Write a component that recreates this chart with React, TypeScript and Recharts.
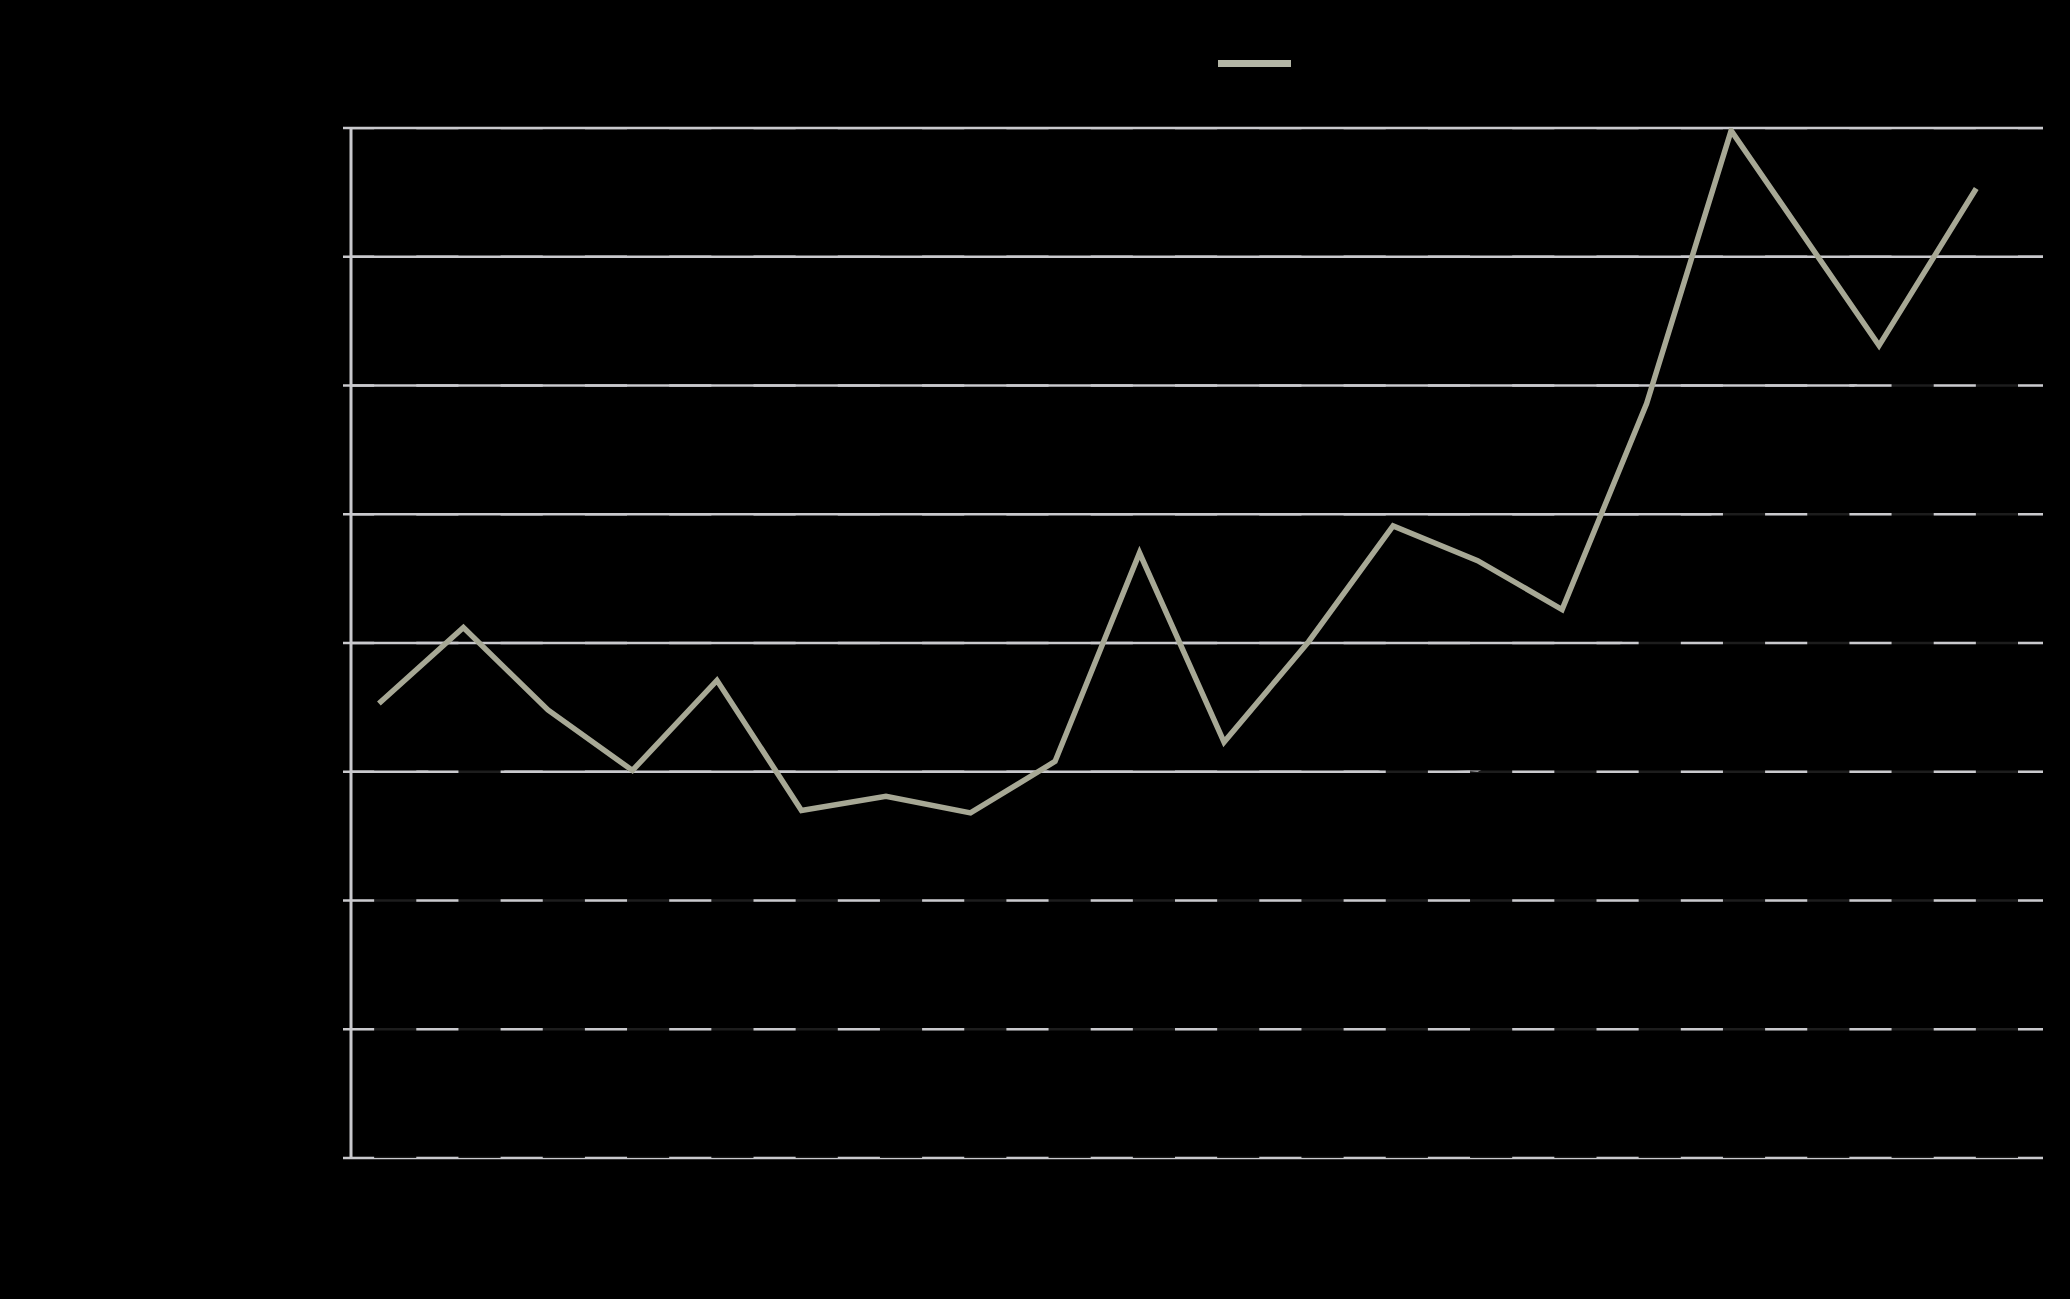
import React from 'react';
import {
  ComposedChart,
  Line,
  Area,
  XAxis,
  YAxis,
  CartesianGrid,
  Legend,
} from 'recharts';

// x positions of the points (period index, last two are irregular)
const periods = [0, 1, 2, 3, 4, 5, 6, 7, 8, 9, 10, 11, 12, 13, 14, 15, 16, 17.75, 18.9];
const values = [
  3.53, 4.12, 3.48, 3.01, 3.71, 2.7, 2.81, 2.68, 3.08, 4.7,
  3.23, 4.01, 4.91, 4.64, 4.26, 5.86, 7.98, 6.31, 7.53,
];

// second series, drawn in black so only its effect on the gridlines shows
const hiddenPeriods = [-0.33, 0, 1, 2, 3, 4, 5, 6, 7, 8, 9, 10, 11, 12, 13, 14, 15, 16, 17.75, 18.9, 19.69];
const hiddenValues = [
  2.6, 2.6, 3.3, 2.7, 2.4, 2.6, 2.3, 2.4, 2.3, 2.5, 2.8,
  2.6, 2.8, 3.05, 3.0, 3.3, 4.3, 5.2, 6.15, 6.5, 6.5,
];

const yTicks = [0, 1, 2, 3, 4, 5, 6, 7, 8];
const xDomain: [number, number] = [-0.33, 19.69];

const lineColor = '#a7a895';
const gridColor = '#c9c9cd';

const lineData = periods.map((x, i) => ({ x, v: values[i] }));
const hiddenData = hiddenPeriods.map((x, i) => ({ x, h: hiddenValues[i] }));
// dashed overlays on each gridline
const dashRows = yTicks.map((t) => [
  { x: xDomain[0], g: t },
  { x: xDomain[1], g: t },
]);

const NoLabel = () => <g />;

const LegendIcon = () => (
  <svg width={73} height={7} style={{ display: 'block' }}>
    <line x1={0} y1={3.5} x2={73} y2={3.5} stroke="#b4b6a6" strokeWidth={7} />
  </svg>
);

const App: React.FC = () => {
  return (
    <div
      style={{
        position: 'absolute',
        left: 0,
        top: 0,
        width: 2070,
        height: 1299,
        background: '#000',
      }}
    >
      <ComposedChart
        width={2070}
        height={1299}
        margin={{ top: 128, right: 27, left: 291, bottom: 141 }}
      >
        <CartesianGrid horizontal vertical={false} stroke={gridColor} strokeWidth={2.5} />
        <XAxis
          type="number"
          dataKey="x"
          domain={xDomain}
          allowDataOverflow
          hide
        />
        <YAxis
          type="number"
          domain={[0, 8]}
          ticks={yTicks}
          allowDataOverflow
          width={60}
          axisLine={{ stroke: gridColor, strokeWidth: 3 }}
          tickLine={{ stroke: gridColor, strokeWidth: 2.5 }}
          tickSize={8}
          tick={NoLabel}
        />
        <Legend
          layout="horizontal"
          verticalAlign="middle"
          align="center"
          wrapperStyle={{ position: 'absolute', left: 1218, top: 60, width: 73, height: 7 }}
          content={LegendIcon}
        />
        <Area
          data={hiddenData}
          dataKey="h"
          type="linear"
          stroke="none"
          fill="#000"
          fillOpacity={0.86}
          isAnimationActive={false}
          legendType="none"
        />
        {dashRows.map((row, i) => (
          <Line
            key={'dash' + i}
            data={row}
            dataKey="g"
            type="linear"
            stroke={gridColor}
            strokeWidth={2.5}
            strokeDasharray="42.15 42.15"
            strokeDashoffset={19}
            dot={false}
            activeDot={false}
            isAnimationActive={false}
            legendType="none"
          />
        ))}
        <Line
          data={lineData}
          dataKey="v"
          type="linear"
          stroke={lineColor}
          strokeWidth={5.5}
          dot={false}
          activeDot={false}
          isAnimationActive={false}
        />
      </ComposedChart>
    </div>
  );
};

export default App;
